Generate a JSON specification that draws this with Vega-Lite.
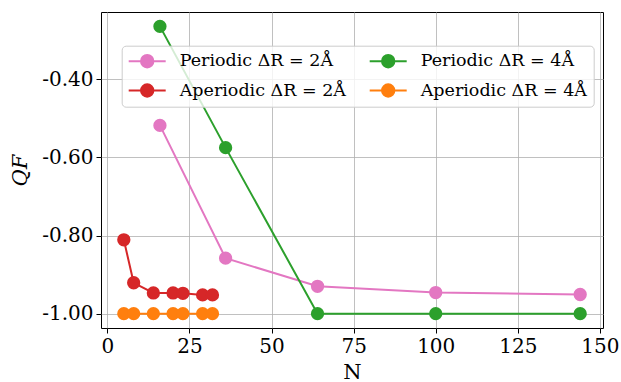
{
  "$schema": "https://vega.github.io/schema/vega-lite/v6.json",
  "width": 502,
  "height": 316,
  "autosize": {"type": "none"},
  "padding": {"left": 101, "top": 12, "right": 18, "bottom": 54},
  "data": {
    "values": [
      {"series": "Periodic ΔR = 2Å", "N": 16, "Q": -0.518},
      {"series": "Periodic ΔR = 2Å", "N": 36, "Q": -0.858},
      {"series": "Periodic ΔR = 2Å", "N": 64, "Q": -0.930},
      {"series": "Periodic ΔR = 2Å", "N": 100, "Q": -0.946},
      {"series": "Periodic ΔR = 2Å", "N": 144, "Q": -0.951},
      {"series": "Aperiodic ΔR = 2Å", "N": 5, "Q": -0.811},
      {"series": "Aperiodic ΔR = 2Å", "N": 8, "Q": -0.921},
      {"series": "Aperiodic ΔR = 2Å", "N": 14, "Q": -0.947},
      {"series": "Aperiodic ΔR = 2Å", "N": 20, "Q": -0.947},
      {"series": "Aperiodic ΔR = 2Å", "N": 23, "Q": -0.948},
      {"series": "Aperiodic ΔR = 2Å", "N": 29, "Q": -0.952},
      {"series": "Aperiodic ΔR = 2Å", "N": 32, "Q": -0.952},
      {"series": "Periodic ΔR = 4Å", "N": 16, "Q": -0.2645},
      {"series": "Periodic ΔR = 4Å", "N": 36, "Q": -0.575},
      {"series": "Periodic ΔR = 4Å", "N": 64, "Q": -1.0},
      {"series": "Periodic ΔR = 4Å", "N": 100, "Q": -1.0},
      {"series": "Periodic ΔR = 4Å", "N": 144, "Q": -1.0},
      {"series": "Aperiodic ΔR = 4Å", "N": 5, "Q": -1.0},
      {"series": "Aperiodic ΔR = 4Å", "N": 8, "Q": -1.0},
      {"series": "Aperiodic ΔR = 4Å", "N": 14, "Q": -1.0},
      {"series": "Aperiodic ΔR = 4Å", "N": 20, "Q": -1.0},
      {"series": "Aperiodic ΔR = 4Å", "N": 23, "Q": -1.0},
      {"series": "Aperiodic ΔR = 4Å", "N": 29, "Q": -1.0},
      {"series": "Aperiodic ΔR = 4Å", "N": 32, "Q": -1.0}
    ]
  },
  "encoding": {
    "x": {
      "field": "N", "type": "quantitative",
      "scale": {"domain": [-1.95, 150.95], "nice": false, "zero": false},
      "axis": {"title": "N", "values": [0, 25, 50, 75, 100, 125, 150], "format": "d", "titlePadding": 5}
    },
    "y": {
      "field": "Q", "type": "quantitative",
      "scale": {"domain": [-1.0368, -0.2277], "nice": false, "zero": false},
      "axis": {
        "title": "QF",
        "values": [-1.0, -0.8, -0.6, -0.4],
        "labelExpr": "replace(format(datum.value, '.2f'), '\u2212', '-')",
        "titlePadding": 11,
        "titleFontStyle": "italic"
      }
    },
    "color": {
      "field": "series", "type": "nominal",
      "scale": {
        "domain": ["Periodic ΔR = 2Å", "Aperiodic ΔR = 2Å", "Periodic ΔR = 4Å", "Aperiodic ΔR = 4Å"],
        "range": ["#e377c2", "#d62728", "#2ca02c", "#ff7f0e"]
      },
      "legend": {
        "title": null,
        "orient": "none",
        "legendX": 20.7,
        "legendY": 33.7,
        "columns": 2,
        "columnPadding": 22,
        "rowPadding": 10.3,
        "clipHeight": 19,
        "symbolType": "M-1,0H1M0.335,0A0.335,0.335,0,1,1,-0.335,0A0.335,0.335,0,1,1,0.335,0Z",
        "symbolSize": 1369,
        "symbolStrokeWidth": 2,
        "symbolOpacity": 1,
        "labelFont": "DejaVu Serif",
        "labelFontSize": 17.5,
        "labelColor": "black",
        "labelOffset": 13,
        "labelLimit": 400,
        "padding": 6,
        "fillColor": "rgba(255,255,255,0.8)",
        "strokeColor": "#cccccc",
        "cornerRadius": 4,
        "encode": {
          "symbols": {
            "update": {
              "stroke": {"scale": "color", "field": "value"},
              "fill": {"scale": "color", "field": "value"},
              "strokeWidth": {"value": 2},
              "opacity": {"value": 1}
            }
          }
        }
      }
    }
  },
  "layer": [
    {"mark": {"type": "line", "strokeWidth": 2}},
    {"mark": {"type": "circle", "size": 177, "opacity": 1}}
  ],
  "config": {
    "view": {"stroke": "black", "strokeWidth": 1},
    "axis": {
      "domain": false,
      "grid": true,
      "gridColor": "#b0b0b0",
      "gridWidth": 0.8,
      "gridOpacity": 1,
      "ticks": true,
      "tickColor": "black",
      "tickSize": 5,
      "tickWidth": 1,
      "labelFont": "DejaVu Serif",
      "labelFontSize": 20,
      "labelColor": "black",
      "labelPadding": 3,
      "titleFont": "DejaVu Serif",
      "titleFontSize": 21,
      "titleFontWeight": "normal",
      "titleColor": "black"
    }
  }
}
